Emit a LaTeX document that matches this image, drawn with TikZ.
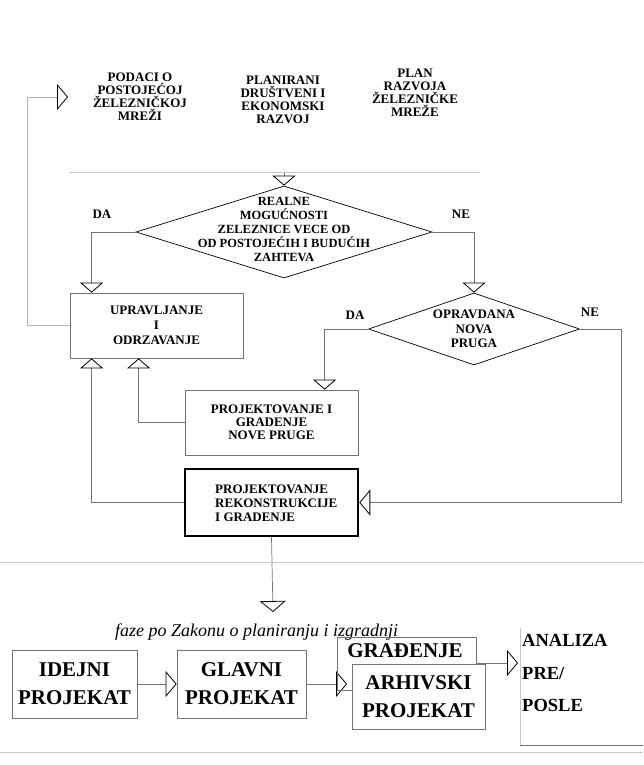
\documentclass[tikz,border=0pt]{standalone}
\usepackage{fontspec}
\setmainfont{Liberation Serif}
\usetikzlibrary{shapes.geometric,arrows.meta,calc}

\begin{document}
\begin{tikzpicture}[x=1pt,y=-1pt,
    txt/.style={font=\bfseries\fontsize{13}{13}\selectfont,align=center,inner sep=0pt},
    big/.style={font=\bfseries\fontsize{21}{28}\selectfont,align=center,inner sep=0pt},
    box/.style={draw=black!55,line width=0.7pt,inner sep=0pt},
    dec/.style={diamond,draw,line width=0.7pt,inner sep=0pt},
    link/.style={draw=black!55,line width=0.7pt},
    faint/.style={draw=black!22,line width=0.6pt},
    tri/.style={-{Triangle[open,length=10pt,width=23pt,color=black,line width=0.8pt]}},
    side/.style={-{Triangle[open,length=11pt,width=26pt,color=black,line width=0.8pt]}}]
  \useasboundingbox (0,0) rectangle (643,765);

  % ulazni podaci
  \node[txt] at (140,97) (podaci) {PODACI O\\POSTOJEĆOJ\\ŽELEZNIČKOJ\\MREŽI};
  \node[txt] at (283,100) (planirani) {PLANIRANI\\DRUŠTVENI I\\EKONOMSKI\\RAZVOJ};
  \node[txt] at (415,93) (plan) {PLAN\\RAZVOJA\\ŽELEZNIČKE\\MREŽE};
  \coordinate (ulaz) at (68,97);
  \coordinate (granica) at (284,172);

  % odluke i aktivnosti
  \node[dec,minimum width=296,minimum height=92] at (284,232) (d1) {};
  \node[txt,font=\bfseries\fontsize{12.5}{14}\selectfont] at (284,229) (d1t) {REALNE\\MOGUĆNOSTI\\ZELEZNICE VECE OD\\OD POSTOJEĆIH I BUDUĆIH\\ZAHTEVA};
  \node[txt] at (102,214) (da1) {DA};
  \node[txt] at (461,214) (ne1) {NE};

  \node[box,txt,font=\bfseries\fontsize{13}{15}\selectfont,minimum width=173,minimum height=65] at (156.5,325.5) (upr) {UPRAVLJANJE\\I\\ODRZAVANJE};

  \node[dec,minimum width=211,minimum height=72] at (474,329) (d2) {};
  \node[txt,font=\bfseries\fontsize{13}{14.5}\selectfont] at (474,329) (d2t) {OPRAVDANA\\NOVA\\PRUGA};
  \node[txt] at (355,315) (da2) {DA};
  \node[txt] at (590,312) (ne2) {NE};

  \node[box,txt,minimum width=173,minimum height=65] at (271.5,422.5) (nova) {PROJEKTOVANJE I\\GRADENJE\\NOVE PRUGE};
  \node[box,draw=black,line width=2.5pt,minimum width=173,minimum height=67] at (271.5,502.5) (rek) {};
  \node[txt,font=\bfseries\fontsize{13}{14}\selectfont,align=left,anchor=west] at (215,503) (rekt) {PROJEKTOVANJE\\REKONSTRUKCIJE\\I GRADENJE};
  \coordinate (faze) at (273,612);

  \draw[link,tri] (granica) -- (d1.north);
  \draw[link,tri] (d1.west) -| ($(upr.north west)+(22,0)$);
  \draw[link,tri] (d1.east) -| (d2.north);
  \draw[link,tri] (d2.west) -| ($(nova.north west)+(140,0)$);
  \draw[link,side] (d2.east) -| ($(rek.east)+(262,0)$) -- (rek.east);
  \draw[link,tri] (rek.west) -| ($(upr.south west)+(22,0)$);
  \draw[link,tri] (nova.west) -| ($(upr.south west)+(69,0)$);
  \draw[link,draw=black!30,side] (upr.west) -- ++(-42,0) |- (ulaz);
  \draw[link,side] (rek.south) -- (faze);

  % faze po zakonu
  \node[font=\itshape\fontsize{18}{18}\selectfont,anchor=base west,inner sep=0pt] at (115,636) (zakon) {faze po Zakonu o planiranju i izgradnji};
  \node[box,big,minimum width=125,minimum height=68] at (74.5,684) (idejni) {IDEJNI\\PROJEKAT};
  \node[box,big,minimum width=129,minimum height=68] at (241.5,684) (glavni) {GLAVNI\\PROJEKAT};
  \node[big] at (405,651) (gradj) {GRAĐENJE};
  \node[box,big,minimum width=133,minimum height=65] at (418.5,697) (arhiv) {ARHIVSKI\\PROJEKAT};
  \node[big,font=\bfseries\fontsize{18.5}{32.5}\selectfont,align=left,anchor=west] at (522,673) (analiza) {ANALIZA\\PRE/\\POSLE};
  \coordinate (ulazgr) at (347,684);
  \coordinate (ulazan) at (518,663);

  \draw[link,side] (idejni.east) -- (glavni.west);
  \draw[link,side] (glavni.east) -- (ulazgr);
  \draw[link] (arhiv.west |- 0,690) -- (337,690) -- (337,637) -- (476,637) -- (476,663) coordinate (grc);
  \draw[link,side] (grc) -- (ulazan);
  \draw[faint] (520,628) -- (520,745);
  \draw[link] (520,745) -- (643,745);

  % tragovi skena
  \draw[faint] (70,172) -- (480,172);
  \draw[faint] (0,562) -- (643,562);
  \draw[faint] (0,752) -- (643,752);
\end{tikzpicture}
\end{document}
